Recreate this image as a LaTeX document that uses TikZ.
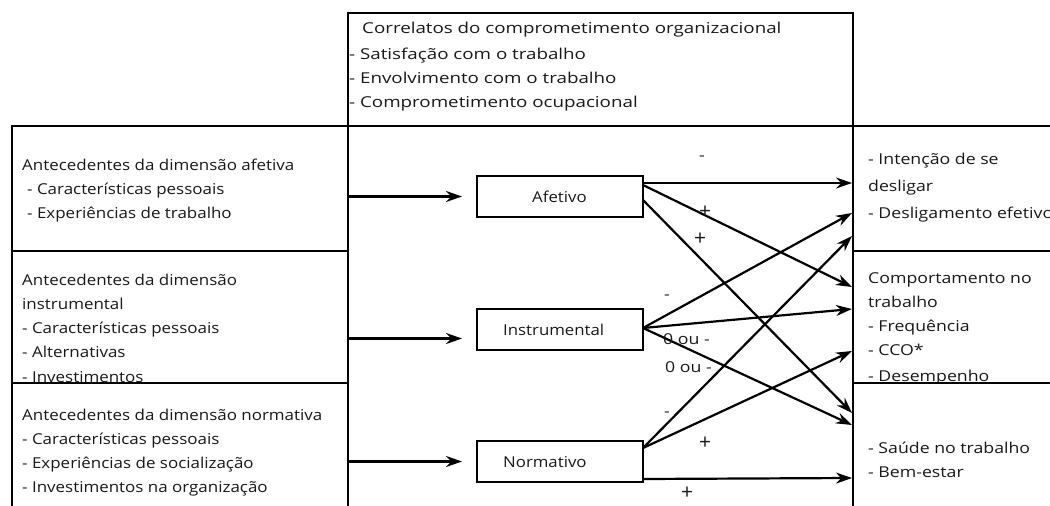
\documentclass[tikz,border=0pt]{standalone}
\usepackage{fontspec}
\setmainfont{Open Sans}
\newfontfamily\ftop[FakeStretch=1.25]{Open Sans}
\newfontfamily\fleft[FakeStretch=1.13]{Open Sans}
\newfontfamily\fright[FakeStretch=1.18]{Open Sans}
\newfontfamily\finn[FakeStretch=1.12]{Open Sans}
\usetikzlibrary{arrows.meta,calc}
\newcommand{\fsz}{\fontsize{15}{18}\selectfont}
\begin{document}
\begin{tikzpicture}[x=1pt,y=-1pt,
  box/.style={draw, line width=2.8pt, fill=white, inner sep=0pt, outer sep=0pt, anchor=north west},
  inbox/.style={draw, line width=2.6pt, fill=white, inner sep=0pt, outer sep=0pt, anchor=north west, minimum width=166pt, minimum height=41pt},
  txt/.style={anchor=base west, inner sep=0pt, text=black!90},
  ttop/.style={txt, font=\ftop\fsz},
  tleft/.style={txt, font=\fleft\fsz},
  tright/.style={txt, font=\fright\fsz},
  tinn/.style={txt, font=\finn\fsz},
  lbl/.style={inner sep=0pt, font=\fright\fsz, text=black!90},
  plus/.style={inner sep=0pt, font=\fontsize{21}{21}\selectfont, text=black!90},
  arr/.style={line width=2.2pt, -{Stealth[length=16pt,width=11pt]}}]
\useasboundingbox (0,0) rectangle (1050,506);
% top box
\node[box, minimum width=505pt, minimum height=113pt] (top) at (348,13) {};
\node[ttop] (t0) at (362,33) {Correlatos do comprometimento organizacional};
\node[ttop] (t1) at (349,59) {- Satisfação com o trabalho};
\node[ttop] (t2) at (349,83) {- Envolvimento com o trabalho};
\node[ttop] (t3) at (349,107) {- Comprometimento ocupacional};
% left boxes
\node[box, minimum width=336pt, minimum height=125pt] (la) at (12,126) {};
\node[tleft] (la0) at (22,170) {Antecedentes da dimensão afetiva};
\node[tleft] (la1) at (27,194) {- Características pessoais};
\node[tleft] (la2) at (27,218) {- Experiências de trabalho};
\node[box, minimum width=336pt, minimum height=132pt] (li) at (12,251) {};
\node[tleft] (li0) at (22,285) {Antecedentes da dimensão};
\node[tleft] (li1) at (22,309) {instrumental};
\node[tleft] (li2) at (22,333) {- Características pessoais};
\node[tleft] (li3) at (22,357) {- Alternativas};
\node[tleft] (li4) at (22,382) {- Investimentos};
\node[box, minimum width=336pt, minimum height=140pt] (ln) at (12,383) {};
\node[tleft] (ln0) at (22,420) {Antecedentes da dimensão normativa};
\node[tleft] (ln1) at (22,444) {- Características pessoais};
\node[tleft] (ln2) at (22,468) {- Experiências de socialização};
\node[tleft] (ln3) at (22,492) {- Investimentos na organização};
% right boxes
\node[box, minimum width=215pt, minimum height=125pt] (ra) at (853,126) {};
\node[tright] (ra0) at (868,164) {- Intenção de se};
\node[tright] (ra1) at (868,191) {desligar};
\node[tright] (ra2) at (868,218) {- Desligamento efetivo};
\node[box, minimum width=215pt, minimum height=132pt] (rc) at (853,251) {};
\node[tright] (rc0) at (868,283) {Comportamento no};
\node[tright] (rc1) at (868,307) {trabalho};
\node[tright] (rc2) at (868,331) {- Frequência};
\node[tright] (rc3) at (868,355) {- CCO*};
\node[tright] (rc4) at (868,381) {- Desempenho};
\node[box, minimum width=215pt, minimum height=140pt] (rs) at (853,383) {};
\node[tright] (rs0) at (868,453) {- Saúde no trabalho};
\node[tright] (rs1) at (868,477) {- Bem-estar};
% inner boxes
\node[inbox] (afe) at (477,176) {};
\node[tinn] at (532,202) {Afetivo};
\node[inbox] (ins) at (477,309) {};
\node[tinn] at (503,335) {Instrumental};
\node[inbox] (nor) at (477,441) {};
\node[tinn] at (503,467) {Normativo};
% arrows from antecedents
\draw[arr] (la.east |- afe.west) -- ($(afe.west)+(-15,0)$);
\draw[arr] ($(li.east |- ins.west)+(0,9)$) -- ($(ins.west)+(-15,9)$);
\draw[arr] (ln.east |- nor.west) -- ($(nor.west)+(-15,0)$);
% start points
\coordinate (a1) at ($(afe.north east)+(0,7)$);
\coordinate (a2) at ($(afe.north east)+(0,9)$);
\coordinate (a3) at ($(afe.north east)+(0,24)$);
\coordinate (i0) at ($(ins.north east)+(0,19)$);
\coordinate (n0) at ($(nor.north east)+(0,7)$);
\coordinate (n1) at ($(nor.south east)+(0,-3)$);
% end points
\coordinate (ea1) at (852,183);
\coordinate (ea2) at (852,213);
\coordinate (ea3) at (852,236);
\coordinate (ec1) at (852,287);
\coordinate (ec2) at (852,309);
\coordinate (ec3) at (852,351);
\coordinate (es1) at (852,413);
\coordinate (es2) at (852,425);
\coordinate (es3) at (852,478);
% afetivo
\draw[arr] (a1) -- (ea1);
\draw[arr] (a2) -- (ec1);
\draw[arr] (a3) -- (es1);
% instrumental
\draw[arr] (i0) -- (ea2);
\draw[arr] (i0) -- (ec2);
\draw[arr] (i0) -- (es2);
% normativo
\draw[arr] (n0) -- (ea3);
\draw[arr] (n0) -- (ec3);
\draw[arr] (n1) -- (es3);
% labels
\node[lbl] at (702,158) {-};
\node[plus] at (705,212) {+};
\node[plus] at (700,239) {+};
\node[lbl] at (667,297) {-};
\node[lbl, anchor=west] at (663,339) {0 ou -};
\node[lbl, anchor=west] at (665,367) {0 ou -};
\node[lbl] at (667,414) {-};
\node[plus] at (705,443) {+};
\node[plus] at (687,493) {+};
\end{tikzpicture}
\end{document}
